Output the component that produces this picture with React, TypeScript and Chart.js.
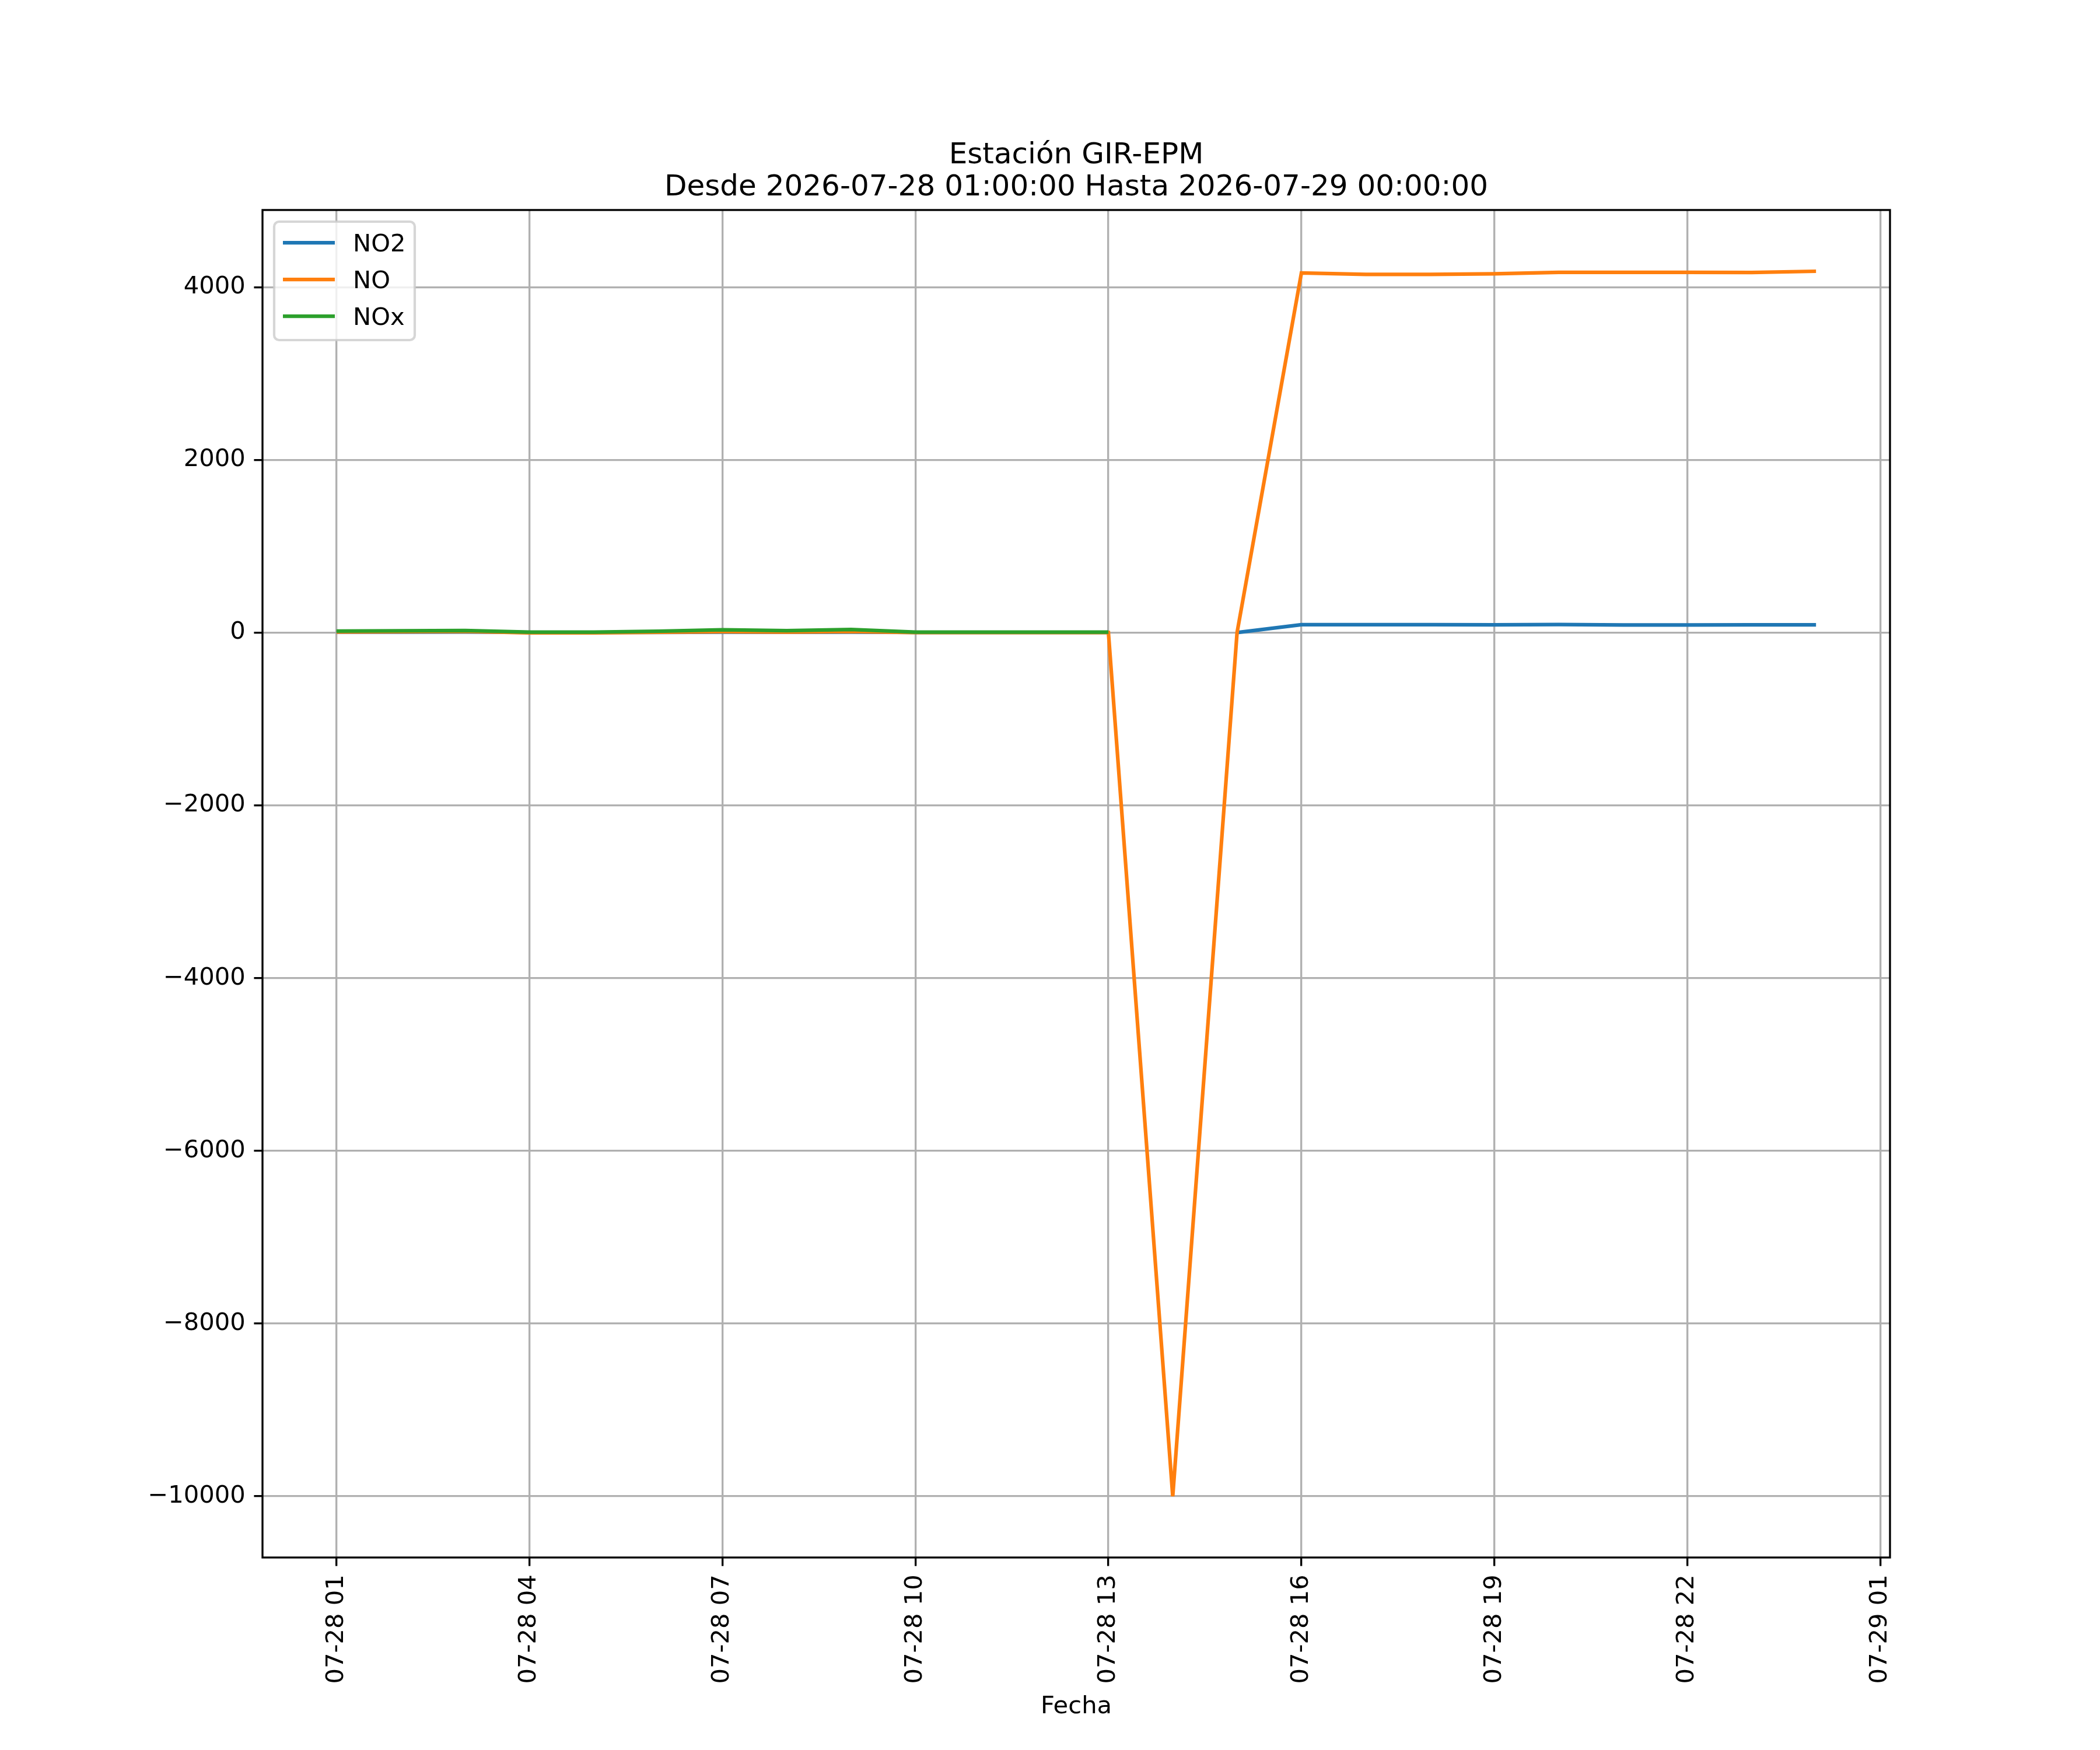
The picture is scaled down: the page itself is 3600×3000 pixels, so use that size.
import React, { useEffect, useRef } from "react";
import { Chart, registerables } from "chart.js";

Chart.register(...registerables);

// hours since 2026-07-28 00:00 (24 = 07-29 00:00)
const hours = [1, 2, 3, 4, 5, 6, 7, 8, 9, 10, 11, 12, 13, 14, 15, 16, 17, 18, 19, 20, 21, 22, 23, 24];

const no2 = [5, 6, 8, 2, 2, 3, 5, 4, 6, 2, 2, 2, 2, null, 0, 92, 92, 91, 90, 93, 89, 89, 90, 90];
const no = [8, 10, 14, -2, -2, 4, 10, 6, 12, 0, 0, 0, 0, -10000, 0, 4164, 4148, 4148, 4155, 4171, 4172, 4172, 4170, 4184];
const nox = [18, 20, 25, 5, 6, 15, 32, 22, 36, 6, 6, 5, 5, null, null, null, null, null, null, null, null, null, null, null];

const seriesNames = ["NO2", "NO", "NOx"];
const seriesColors = ["#1f77b4", "#ff7f0e", "#2ca02c"];

const xTicks = [1, 4, 7, 10, 13, 16, 19, 22, 25];
const yTicks = [-10000, -8000, -6000, -4000, -2000, 0, 2000, 4000];

const titleLines = ["Estación GIR-EPM", "Desde 2026-07-28 01:00:00 Hasta 2026-07-29 00:00:00"];
const xLabel = "Fecha";

const FONT = "DejaVu Sans";
const PT = 300 / 72;

const hourLabel = (h: number) => {
  const day = h >= 24 ? "07-29" : "07-28";
  const hh = String(h % 24).padStart(2, "0");
  return `${day} ${hh}`;
};

const numLabel = (v: number) => (v < 0 ? "\u2212" + Math.abs(v) : String(v));

// matplotlib-ish 5% margins
const allY = [...no2, ...no, ...nox].filter((v) => v !== null) as number[];
const yLo = Math.min(...allY);
const yHi = Math.max(...allY);
const xLo = Math.min(...hours);
const xHi = Math.max(...hours);

const decorations = {
  id: "decorations",
  afterDraw(chart: any) {
    const { ctx, chartArea } = chart;
    const { left, right, top, bottom } = chartArea;
    ctx.save();

    // spines
    ctx.strokeStyle = "#000000";
    ctx.lineWidth = 0.8 * PT;
    ctx.strokeRect(left, top, right - left, bottom - top);

    // legend
    const fs = 10 * PT;
    const bx = left + 20;
    const by = top + 20;
    const bw = 241;
    const bh = 203;
    ctx.beginPath();
    ctx.roundRect(bx, by, bw, bh, 0.2 * fs);
    ctx.fillStyle = "rgba(255,255,255,0.8)";
    ctx.fill();
    ctx.strokeStyle = "rgba(204,204,204,0.8)";
    ctx.lineWidth = 1.0 * PT;
    ctx.stroke();

    ctx.font = `${fs}px "${FONT}"`;
    ctx.textAlign = "left";
    ctx.textBaseline = "alphabetic";
    seriesNames.forEach((name, i) => {
      const y = by + 36 + i * 63;
      ctx.beginPath();
      ctx.moveTo(bx + 15, y);
      ctx.lineTo(bx + 104, y);
      ctx.strokeStyle = seriesColors[i];
      ctx.lineWidth = 1.5 * PT;
      ctx.lineCap = "butt";
      ctx.stroke();
      ctx.fillStyle = "#000000";
      ctx.fillText(name, bx + 135, y + 15);
    });

    // title
    const cx = (left + right) / 2;
    ctx.textAlign = "center";
    ctx.font = `${12 * PT}px "${FONT}"`;
    ctx.fillText(titleLines[0], cx, top - 80);
    ctx.fillText(titleLines[1], cx, top - 25);

    // x label
    ctx.font = `${fs}px "${FONT}"`;
    ctx.fillText(xLabel, cx, 2937);

    ctx.restore();
  },
};

export default function App() {
  const canvasRef = useRef<HTMLCanvasElement | null>(null);

  useEffect(() => {
    document.body.style.margin = "0";
    const ctx = canvasRef.current?.getContext("2d");
    if (!ctx) return;

    const series = [no2, no, nox];
    const chart = new Chart(ctx, {
      type: "line",
      data: {
        datasets: series.map((vals, i) => ({
          label: seriesNames[i],
          data: hours.map((h, j) => ({ x: h, y: vals[j] })),
          borderColor: seriesColors[i],
          backgroundColor: seriesColors[i],
          borderWidth: 1.5 * PT,
          pointRadius: 0,
          tension: 0,
          spanGaps: false,
          order: series.length - i,
        })),
      },
      options: {
        responsive: false,
        devicePixelRatio: 1,
        animation: false,
        events: [],
        layout: { padding: { left: 0, top: 360, right: 360, bottom: 0 } },
        plugins: {
          legend: { display: false },
          title: { display: false },
          tooltip: { enabled: false },
        },
        scales: {
          x: {
            type: "linear",
            min: xLo - 0.05 * (xHi - xLo),
            max: xHi + 0.05 * (xHi - xLo),
            afterFit: (scale: any) => {
              scale.height = 330;
            },
            afterBuildTicks: (scale: any) => {
              scale.ticks = xTicks.map((v) => ({ value: v }));
            },
            grid: {
              color: "#b0b0b0",
              lineWidth: 0.8 * PT,
              tickColor: "#000000",
              tickWidth: 0.8 * PT,
              tickLength: 3.5 * PT,
            },
            border: { display: false },
            ticks: {
              autoSkip: false,
              maxRotation: 90,
              minRotation: 90,
              padding: 3.5 * PT,
              color: "#000000",
              font: { family: FONT, size: 10 * PT },
              callback: (v: any) => hourLabel(Number(v)),
            },
          },
          y: {
            type: "linear",
            min: yLo - 0.05 * (yHi - yLo),
            max: yHi + 0.05 * (yHi - yLo),
            afterFit: (scale: any) => {
              scale.width = 450;
            },
            afterBuildTicks: (scale: any) => {
              scale.ticks = yTicks.map((v) => ({ value: v }));
            },
            grid: {
              color: "#b0b0b0",
              lineWidth: 0.8 * PT,
              tickColor: "#000000",
              tickWidth: 0.8 * PT,
              tickLength: 3.5 * PT,
            },
            border: { display: false },
            ticks: {
              padding: 3.5 * PT,
              color: "#000000",
              font: { family: FONT, size: 10 * PT },
              callback: (v: any) => numLabel(Number(v)),
            },
          },
        },
      },
      plugins: [decorations],
    } as any);

    return () => {
      chart.destroy();
    };
  }, []);

  return (
    <canvas
      ref={canvasRef}
      width={3600}
      height={3000}
      style={{ display: "block", width: 3600, height: 3000 }}
    />
  );
}
